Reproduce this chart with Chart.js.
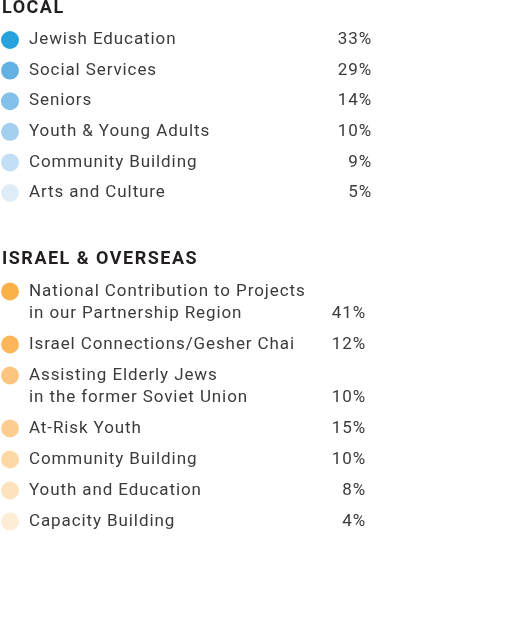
<!DOCTYPE html>
<html>
<head>
<meta charset="utf-8">
<script src="https://cdn.jsdelivr.net/npm/chart.js@4/dist/chart.umd.min.js"></script>
<style>
  html, body { margin: 0; padding: 0; background: #fff; }
  canvas { display: block; }
</style>
</head>
<body>
<canvas id="allocChart" width="508" height="631"></canvas>
<script>
const localTitle = 'LOCAL';
const localLabels = ['Jewish Education', 'Social Services', 'Seniors', 'Youth & Young Adults', 'Community Building', 'Arts and Culture'];
const localValues = [33, 29, 14, 10, 9, 5];
const localColors = ['#27a2dc', '#63b1e3', '#83c1ea', '#a3d0f1', '#c2dff5', '#dfedf9'];

const israelTitle = 'ISRAEL & OVERSEAS';
const israelLabels = ['National Contribution to Projects\nin our Partnership Region', 'Israel Connections/Gesher Chai', 'Assisting Elderly Jews\nin the former Soviet Union', 'At-Risk Youth', 'Community Building', 'Youth and Education', 'Capacity Building'];
const israelValues = [41, 12, 10, 15, 10, 8, 4];
const israelColors = ['#fcb04a', '#fdb65a', '#fdc57d', '#fdcd8f', '#fed8a4', '#fee2bb', '#feedd6'];

const WRAP = 22;

// y position of each row (in pixels, the y scale runs 0..631 top-down)
function rowPositions(labels, startY, step) {
  let y = startY;
  return labels.map(l => {
    const here = y;
    const lines = l.split('\n').length;
    y += (lines - 1) * WRAP + step;
    return here;
  });
}

const localY = rowPositions(localLabels, 40, 30.6);
const israelY = rowPositions(israelLabels, 291.5, 31);

const listText = {
  id: 'listText',
  afterDatasetsDraw(chart) {
    const ctx = chart.ctx;
    const ys = chart.scales.y;
    ctx.save();
    ctx.textBaseline = 'middle';

    const groups = [
      { title: localTitle, titleY: 8, labels: localLabels, values: localValues, right: 372 },
      { title: israelTitle, titleY: 259, labels: israelLabels, values: israelValues, right: 366 }
    ];
    groups.forEach((g, di) => {
      ctx.fillStyle = '#231f20';
      ctx.font = 'bold 18px Roboto';
      ctx.letterSpacing = '1.5px';
      ctx.textAlign = 'left';
      ctx.fillText(g.title, 2, ys.getPixelForValue(g.titleY));

      const meta = chart.getDatasetMeta(di);
      ctx.font = '17px Roboto';
      ctx.letterSpacing = '0.9px';
      ctx.fillStyle = '#3b3b3b';
      meta.data.forEach((pt, i) => {
        const lines = g.labels[i].split('\n');
        ctx.textAlign = 'left';
        lines.forEach((ln, k) => ctx.fillText(ln, pt.x + 19, pt.y + k * WRAP));
        ctx.textAlign = 'right';
        ctx.fillText(g.values[i] + '%', g.right, pt.y + (lines.length - 1) * WRAP);
      });
    });
    ctx.restore();
  }
};

new Chart(document.getElementById('allocChart'), {
  type: 'scatter',
  data: {
    datasets: [
      {
        label: localTitle,
        data: localValues.map((v, i) => ({ x: 10, y: localY[i] })),
        backgroundColor: localColors,
        borderWidth: 0,
        pointRadius: 9,
        clip: false
      },
      {
        label: israelTitle,
        data: israelValues.map((v, i) => ({ x: 10, y: israelY[i] })),
        backgroundColor: israelColors,
        borderWidth: 0,
        pointRadius: 9,
        clip: false
      }
    ]
  },
  options: {
    responsive: false,
    animation: false,
    layout: { padding: 0, autoPadding: false },
    plugins: { legend: { display: false }, tooltip: { enabled: false } },
    scales: {
      x: { display: false, min: 0, max: 508 },
      y: { display: false, min: 0, max: 631, reverse: true }
    }
  },
  plugins: [listText]
});
</script>
</body>
</html>
